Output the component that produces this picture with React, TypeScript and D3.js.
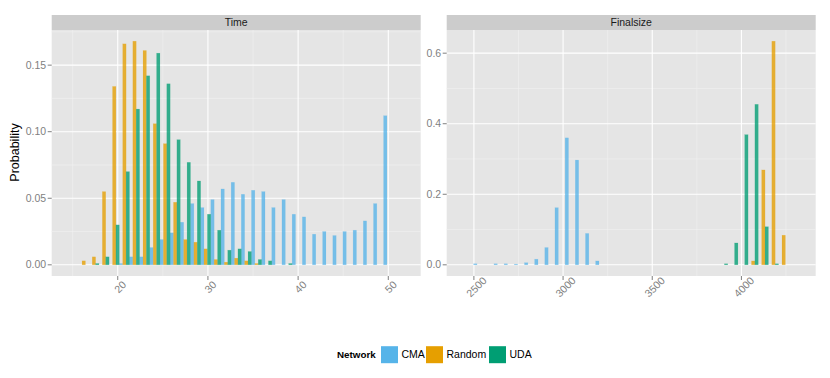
import React, { useRef, useEffect } from "react";
import * as d3 from "d3";

// histogram bins (centres) and probabilities
const networks = ["CMA", "Random", "UDA"];
const colors = ["#56B4E9", "#E69F00", "#009E73"];

const timeBinWidth = 1.127;
const timeBins = [
  15.10, 16.23, 17.36, 18.48, 19.61, 20.74, 21.86, 22.99, 24.12, 25.25, 26.37,
  27.50, 28.63, 29.75, 30.88, 32.01, 33.14, 34.26, 35.39, 36.52, 37.64, 38.77,
  39.90, 41.03, 42.15, 43.28, 44.41, 45.53, 46.66, 47.79, 48.92, 50.04, 51.17,
];
const timeCMA = [
  0, 0, 0, 0, 0, 0.001, 0.006, 0.006, 0.013, 0.019, 0.024, 0.032, 0.046, 0.043,
  0.049, 0.057, 0.062, 0.053, 0.056, 0.055, 0.043, 0.049, 0.038, 0.036, 0.023,
  0.025, 0.022, 0.025, 0.026, 0.033, 0.046, 0.112, 0,
];
const timeRandom = [
  0, 0.003, 0.006, 0.055, 0.134, 0.166, 0.168, 0.161, 0.106, 0.091, 0.047,
  0.019, 0.017, 0.012, 0.004, 0.002, 0.005, 0.003, 0.001, 0, 0, 0, 0, 0, 0, 0,
  0, 0, 0, 0, 0, 0, 0,
];
const timeUDA = [
  0, 0, 0.001, 0.006, 0.03, 0.07, 0.117, 0.142, 0.159, 0.136, 0.094, 0.077,
  0.063, 0.038, 0.026, 0.011, 0.012, 0.01, 0.004, 0.003, 0, 0.001, 0, 0, 0, 0,
  0, 0, 0, 0, 0, 0, 0,
];

const sizeBinWidth = 57;
const sizeBins = [
  2470, 2527, 2584, 2641, 2698, 2755, 2812, 2869, 2926, 2983, 3040, 3097, 3154,
  3211, 3268, 3325, 3382, 3439, 3496, 3553, 3610, 3667, 3724, 3781, 3838, 3895,
  3952, 4009, 4066, 4123, 4180, 4237, 4294,
];
const sizeCMA = [
  0, 0.003, 0, 0.003, 0.003, 0.002, 0.006, 0.016, 0.049, 0.162, 0.36, 0.297,
  0.089, 0.011, 0, 0, 0, 0, 0, 0, 0, 0, 0, 0, 0, 0, 0, 0, 0, 0, 0, 0, 0,
];
const sizeRandom = [
  0, 0, 0, 0, 0, 0, 0, 0, 0, 0, 0, 0, 0, 0, 0, 0, 0, 0, 0, 0, 0, 0, 0, 0, 0, 0,
  0, 0, 0.011, 0.269, 0.634, 0.084, 0,
];
const sizeUDA = [
  0, 0, 0, 0, 0, 0, 0, 0, 0, 0, 0, 0, 0, 0, 0, 0, 0, 0, 0, 0, 0, 0, 0, 0, 0,
  0.003, 0.062, 0.369, 0.455, 0.108, 0.003, 0, 0,
];

const timeXTicks = [20, 30, 40, 50];
const timeXMinor = [15, 25, 35, 45];
const timeYTicks = [0, 0.05, 0.1, 0.15];
const timeYMinor = [0.025, 0.075, 0.125, 0.175];
const sizeXTicks = [2500, 3000, 3500, 4000];
const sizeXMinor = [2750, 3250, 3750, 4250];
const sizeYTicks = [0, 0.2, 0.4, 0.6];
const sizeYMinor = [0.1, 0.3, 0.5];

const FONT = "'Liberation Sans', Arial, Helvetica, sans-serif";
const SMALL = 10.5;

const App = () => {
  const svgRef = useRef();

  useEffect(() => {
    const svg = d3.select(svgRef.current);
    svg.selectAll("*").remove();

    const panelTop = 30;
    const panelBottom = 276;
    const panelWidth = 369;

    const panels = [
      {
        title: "Time",
        left: 51.7,
        bins: timeBins,
        bw: timeBinWidth,
        series: [timeCMA, timeRandom, timeUDA],
        xTicks: timeXTicks,
        xMinor: timeXMinor,
        yTicks: timeYTicks,
        yMinor: timeYMinor,
        yFmt: d3.format(".2f"),
      },
      {
        title: "Finalsize",
        left: 446.7,
        bins: sizeBins,
        bw: sizeBinWidth,
        series: [sizeCMA, sizeRandom, sizeUDA],
        xTicks: sizeXTicks,
        xMinor: sizeXMinor,
        yTicks: sizeYTicks,
        yMinor: sizeYMinor,
        yFmt: d3.format(".1f"),
      },
    ];

    panels.forEach((p) => {
      const lo = p.bins[0] - p.bw / 2;
      const hi = p.bins[p.bins.length - 1] + p.bw / 2;
      const pad = (hi - lo) * 0.05;
      const x = d3
        .scaleLinear()
        .domain([lo - pad, hi + pad])
        .range([p.left, p.left + panelWidth]);
      const ymax = d3.max(p.series.flat());
      const y = d3
        .scaleLinear()
        .domain([-0.05 * ymax, 1.05 * ymax])
        .range([panelBottom, panelTop]);

      // strip
      svg
        .append("rect")
        .attr("x", p.left)
        .attr("y", 15)
        .attr("width", panelWidth)
        .attr("height", panelTop - 15)
        .attr("fill", "#CCCCCC");
      svg
        .append("text")
        .attr("x", p.left + panelWidth / 2)
        .attr("y", 22.5)
        .attr("dy", "0.35em")
        .attr("text-anchor", "middle")
        .attr("font-family", FONT)
        .attr("font-size", SMALL)
        .attr("fill", "#1A1A1A")
        .text(p.title);

      // panel background
      svg
        .append("rect")
        .attr("x", p.left)
        .attr("y", panelTop)
        .attr("width", panelWidth)
        .attr("height", panelBottom - panelTop)
        .attr("fill", "#E5E5E5");

      const g = svg.append("g");
      p.xMinor.forEach((v) => {
        g.append("line")
          .attr("x1", x(v))
          .attr("x2", x(v))
          .attr("y1", panelTop)
          .attr("y2", panelBottom)
          .attr("stroke", "#F2F2F2")
          .attr("stroke-width", 0.6);
      });
      p.yMinor.forEach((v) => {
        if (y(v) < panelTop) return;
        g.append("line")
          .attr("x1", p.left)
          .attr("x2", p.left + panelWidth)
          .attr("y1", y(v))
          .attr("y2", y(v))
          .attr("stroke", "#F2F2F2")
          .attr("stroke-width", 0.6);
      });
      p.xTicks.forEach((v) => {
        g.append("line")
          .attr("x1", x(v))
          .attr("x2", x(v))
          .attr("y1", panelTop)
          .attr("y2", panelBottom)
          .attr("stroke", "#FFFFFF")
          .attr("stroke-width", 1.1);
      });
      p.yTicks.forEach((v) => {
        g.append("line")
          .attr("x1", p.left)
          .attr("x2", p.left + panelWidth)
          .attr("y1", y(v))
          .attr("y2", y(v))
          .attr("stroke", "#FFFFFF")
          .attr("stroke-width", 1.1);
      });

      // bars, dodged three to a bin
      p.series.forEach((vals, s) => {
        const left = (c) => x(c - p.bw / 2 + (s * p.bw) / 3);
        const right = (c) => x(c - p.bw / 2 + ((s + 1) * p.bw) / 3);
        g.selectAll(null)
          .data(vals.map((v, i) => ({ c: p.bins[i], v })))
          .enter()
          .append("rect")
          .attr("x", (d) => left(d.c))
          .attr("width", (d) => right(d.c) - left(d.c))
          .attr("y", (d) => y(d.v))
          .attr("height", (d) => y(0) - y(d.v))
          .attr("fill", colors[s])
          .attr("fill-opacity", 0.78)
          .attr("stroke", colors[s])
          .attr("stroke-opacity", 0.2)
          .attr("stroke-width", 0.5);
      });

      // axes
      p.yTicks.forEach((v) => {
        svg
          .append("line")
          .attr("x1", p.left - 4)
          .attr("x2", p.left)
          .attr("y1", y(v))
          .attr("y2", y(v))
          .attr("stroke", "#7F7F7F");
        svg
          .append("text")
          .attr("x", p.left - 5.5)
          .attr("y", y(v))
          .attr("dy", "0.35em")
          .attr("text-anchor", "end")
          .attr("font-family", FONT)
          .attr("font-size", SMALL)
          .attr("fill", "#7F7F7F")
          .text(p.yFmt(v));
      });
      p.xTicks.forEach((v) => {
        svg
          .append("line")
          .attr("x1", x(v))
          .attr("x2", x(v))
          .attr("y1", panelBottom)
          .attr("y2", panelBottom + 4)
          .attr("stroke", "#7F7F7F");
        svg
          .append("text")
          .attr("transform", `translate(${x(v) + 2.5},${panelBottom + 11}) rotate(-45)`)
          .attr("dy", "0.35em")
          .attr("text-anchor", "middle")
          .attr("font-family", FONT)
          .attr("font-size", SMALL)
          .attr("fill", "#7F7F7F")
          .text(v);
      });
    });

    svg
      .append("text")
      .attr("transform", `translate(15,152.5) rotate(-90)`)
      .attr("dy", "0.35em")
      .attr("text-anchor", "middle")
      .attr("font-family", FONT)
      .attr("font-size", 12.5)
      .attr("fill", "#000")
      .text("Probability");

    // legend
    const ly = 354.7;
    svg
      .append("text")
      .attr("x", 337)
      .attr("y", ly)
      .attr("dy", "0.35em")
      .attr("font-family", FONT)
      .attr("font-size", 9.8)
      .attr("font-weight", "bold")
      .text("Network");
    const keyX = [381, 426, 489];
    networks.forEach((n, i) => {
      svg
        .append("rect")
        .attr("x", keyX[i])
        .attr("y", ly - 8.5)
        .attr("width", 17)
        .attr("height", 17)
        .attr("fill", colors[i]);
      svg
        .append("text")
        .attr("x", keyX[i] + 20.5)
        .attr("y", ly)
        .attr("dy", "0.35em")
        .attr("font-family", FONT)
        .attr("font-size", SMALL)
        .attr("fill", "#000")
        .text(n);
    });
  }, []);

  return (
    <svg
      ref={svgRef}
      width={830}
      height={378}
      style={{ position: "absolute", left: 0, top: 0, background: "#fff" }}
    />
  );
};

export default App;
